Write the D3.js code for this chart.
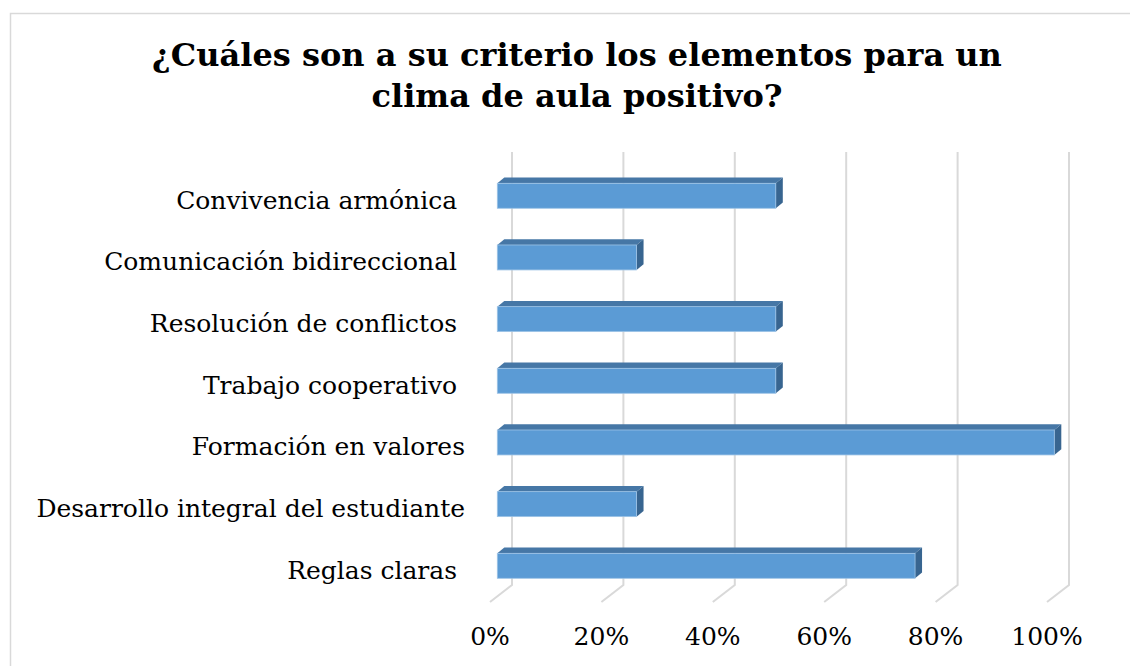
<!DOCTYPE html>
<html>
<head>
<meta charset="utf-8">
<script src="https://cdn.jsdelivr.net/npm/d3@7"></script>
<style>
  body { margin: 0; background: #fff; }
  text { font-family: "DejaVu Serif", Georgia, serif; fill: #000; }
</style>
</head>
<body>
<div id="chart"></div>
<script>
// data
var categories = [
    "Convivencia armónica ",
    "Comunicación bidireccional ",
    "Resolución de conflictos ",
    "Trabajo cooperativo ",
    "Formación en valores",
    "Desarrollo integral del estudiante",
    "Reglas claras "
];
var values = [0.50, 0.25, 0.50, 0.50, 1.00, 0.25, 0.75];
var titleLines = ["¿Cuáles son a su criterio los elementos para un", "clima de aula positivo?"];
var tickValues = [0, 0.2, 0.4, 0.6, 0.8, 1.0];

var cfg = {
    w: 1130,
    h: 666,
    wallX: 512,      // 0% on the back wall
    barX: 497.3,     // 0% on bar front face
    floorDx: -22,    // back wall -> front floor
    floorDy: 17,
    barDx: 7,        // bar depth
    barDy: -5.7,
    gridTop: 152,
    gridBottom: 585
};

var svg = d3.select("#chart")
    .append("svg")
    .attr("width", cfg.w)
    .attr("height", cfg.h);

svg.append("rect")
    .attr("width", cfg.w).attr("height", cfg.h)
    .attr("fill", "#fff");

// chart frame
svg.append("rect")
    .attr("x", 10.5).attr("y", 13.5)
    .attr("width", 1140).attr("height", 700)
    .attr("fill", "none")
    .attr("stroke", "#d9d9d9")
    .attr("stroke-width", 1.5);

var x = d3.scaleLinear().domain([0, 1]).range([0, 557]);

var y = d3.scaleBand()
    .domain(categories)
    .range([183.3, 578.3])
    .paddingInner(0.595)
    .paddingOuter(0);

// title
svg.append("g").selectAll("text")
    .data(titleLines)
    .enter()
    .append("text")
    .attr("x", 577)
    .attr("y", function(d, i) { return 66 + i * 41; })
    .attr("text-anchor", "middle")
    .style("font-size", "32px")
    .style("font-weight", "bold")
    .text(function(d) { return d; });

// gridlines: back wall + floor slant
svg.append("g").selectAll("path")
    .data(tickValues)
    .enter()
    .append("path")
    .attr("d", function(d) {
        var gx = cfg.wallX + x(d);
        return "M" + gx + "," + cfg.gridTop +
            "L" + gx + "," + cfg.gridBottom +
            "L" + (gx + cfg.floorDx) + "," + (cfg.gridBottom + cfg.floorDy);
    })
    .attr("fill", "none")
    .attr("stroke", "#d9d9d9")
    .attr("stroke-width", 2);

// tick labels
svg.append("g").selectAll("text")
    .data(tickValues)
    .enter()
    .append("text")
    .attr("x", function(d) { return cfg.wallX + x(d) + cfg.floorDx; })
    .attr("y", 645)
    .attr("text-anchor", "middle")
    .style("font-size", "25px")
    .text(function(d) { return d3.format(".0%")(d); });

// 3D bars
var bars = svg.append("g").selectAll("g")
    .data(categories.map(function(c, i) { return { name: c, value: values[i] }; }))
    .enter()
    .append("g");

// top face
bars.append("path")
    .attr("d", function(d) {
        var x0 = cfg.barX, x1 = cfg.barX + x(d.value), t = y(d.name);
        return "M" + x0 + "," + t + "L" + (x0 + cfg.barDx) + "," + (t + cfg.barDy) +
            "L" + (x1 + cfg.barDx) + "," + (t + cfg.barDy) + "L" + x1 + "," + t + "Z";
    })
    .attr("fill", "#4677a6");

// right face
bars.append("path")
    .attr("d", function(d) {
        var x1 = cfg.barX + x(d.value), t = y(d.name), b = t + y.bandwidth();
        return "M" + x1 + "," + t + "L" + (x1 + cfg.barDx) + "," + (t + cfg.barDy) +
            "L" + (x1 + cfg.barDx) + "," + (b + cfg.barDy) + "L" + x1 + "," + b + "Z";
    })
    .attr("fill", "#386590");

// front face
bars.append("rect")
    .attr("x", cfg.barX)
    .attr("y", function(d) { return y(d.name); })
    .attr("width", function(d) { return x(d.value); })
    .attr("height", y.bandwidth())
    .attr("fill", "#5b9bd5")
    .attr("stroke", "#9dc3e6")
    .attr("stroke-width", 0.8);

// category labels
svg.append("g").selectAll("text")
    .data(categories)
    .enter()
    .append("text")
    .attr("x", 465)
    .attr("y", function(d) { return y(d) + y.bandwidth() / 2 + 13; })
    .attr("text-anchor", "end")
    .style("font-size", "25px")
    .style("white-space", "pre")
    .text(function(d) { return d; });
</script>
</body>
</html>
